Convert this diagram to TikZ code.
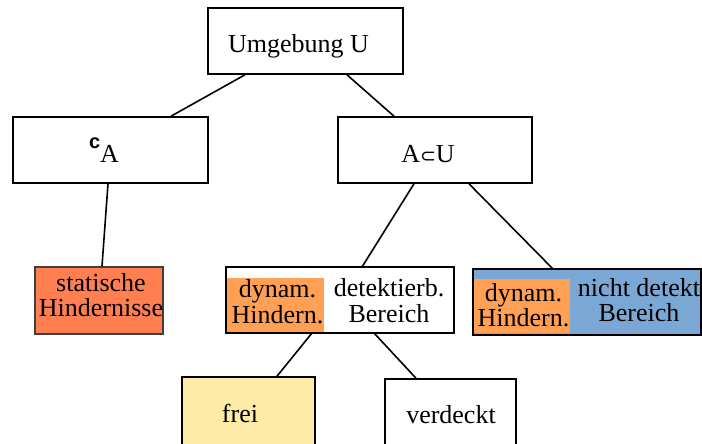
\documentclass[tikz,border=0pt]{standalone}
\usepackage{fontspec}
\setmainfont{Liberation Serif}
\newfontfamily\sansbold{Liberation Sans}
\newfontfamily\dejavu{DejaVu Sans}
\definecolor{coralfill}{HTML}{FF7F50}
\definecolor{dynorange}{HTML}{FFA055}
\definecolor{ndblue}{HTML}{7BA7D4}
\definecolor{freifill}{HTML}{FFEBA8}
\definecolor{darkborder}{HTML}{3F3F3F}
\begin{document}
\begin{tikzpicture}[x=1pt,y=-1pt,
  every node/.style={font=\fontsize{26}{25}\selectfont, align=center},
  box/.style={draw=black, line width=1.6pt, fill=white, inner sep=0pt},
  fillonly/.style={fill=#1, draw=none, inner sep=0pt},
  label/.style={inner sep=0pt},
  twoline/.style={inner sep=0pt, font=\fontsize{26}{#1}\selectfont},
  outline/.style={draw=black, line width=1.6pt},
  conn/.style={draw=black, line width=1.6pt}]
\useasboundingbox (0,0) rectangle (702,444);
\clip (0,0) rectangle (702,444);
% top level
\node[box, minimum width=195pt, minimum height=66pt] (u) at (305.5,41) {};
\node[label, anchor=base] (ut) at (298.5,53) {Umgebung U};
\node[box, minimum width=195pt, minimum height=66pt] (cA) at (110.5,150) {};
\node[label, anchor=base] (cAt) at (104,162)
  {{\sansbold\bfseries\fontsize{20}{20}\selectfont\raisebox{14pt}{c}}A};
\node[box, minimum width=194pt, minimum height=66pt] (AU) at (435,150) {};
\node[label, anchor=base] (AUt) at (428,162)
  {A{\dejavu\fontsize{19}{19}\selectfont ⊂}U};
% second level
\node[box, draw=darkborder, fill=coralfill, minimum width=128pt, minimum height=67pt] (stat) at (99,300.5) {};
\node[twoline=25] (statt) at (101,295.6) {statische\\Hindernisse};
\node[box, draw=none, outer sep=0pt, minimum width=228pt, minimum height=66pt] (det) at (340,300) {};
\node[fillonly=dynorange, minimum width=97pt, minimum height=54pt] (dyn1) at (275.5,305) {};
\node[twoline=26] (dyn1t) at (277.5,302) {dynam.\\Hindern.};
\node[twoline=26] (dett) at (389,301) {detektierb.\\Bereich};
\draw[outline] (det.north west) rectangle (det.south east);
\node[box, draw=none, outer sep=0pt, fill=ndblue, minimum width=228pt, minimum height=66pt] (nicht) at (587,302) {};
\node[fillonly=dynorange, minimum width=96pt, minimum height=54pt] (dyn2) at (522,306) {};
\node[twoline=25] (dyn2t) at (523.5,305.6) {dynam.\\Hindern.};
\node[twoline=25] (nichtt) at (639,300.6) {nicht detekt\\Bereich};
\draw[outline] (nicht.north west) rectangle (nicht.south east);
% third level
\node[box, fill=freifill, minimum width=133pt, minimum height=70pt] (frei) at (248.5,412) {};
\node[label, anchor=base] (freit) at (240,422) {frei};
\node[box, minimum width=131pt, minimum height=70pt] (verd) at (450.5,414) {};
\node[label, anchor=base] (verdt) at (451,423) {verdeckt};
% connectors
\draw[conn] ([xshift=-60.5pt]u.south) -- ([xshift=60.5pt]cA.north);
\draw[conn] ([xshift=41.5pt]u.south) -- ([xshift=-41pt]AU.north);
\draw[conn] ([xshift=-2.5pt]cA.south) -- ([xshift=3pt]stat.north);
\draw[conn] ([xshift=-21pt]AU.south) -- ([xshift=22pt]det.north);
\draw[conn] ([xshift=34pt]AU.south) -- ([xshift=-34pt]nicht.north);
\draw[conn] ([xshift=-28pt]det.south) -- ([xshift=28.5pt]frei.north);
\draw[conn] ([xshift=34pt]det.south) -- ([xshift=-34.5pt]verd.north);
\end{tikzpicture}
\end{document}
